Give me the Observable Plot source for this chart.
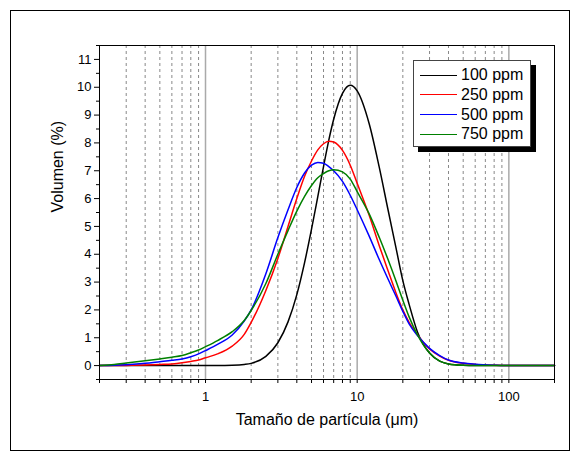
<!DOCTYPE html>
<html><head><meta charset="utf-8">
<script src="https://cdn.jsdelivr.net/npm/d3@7"></script>
<script src="https://cdn.jsdelivr.net/npm/@observablehq/plot@0.6"></script>
<style>
body{margin:0;background:#fff;}
#wrap{position:relative;width:578px;height:459px;font-family:"Liberation Sans",Arial,sans-serif;color:#000;}
#outer{position:absolute;left:10px;top:10px;width:558px;height:439px;border:1px solid #000;pointer-events:none;}
#legend{position:absolute;left:413px;top:60px;width:116px;height:85px;border:1px solid #444;background:#fff;box-shadow:5px 5px 0 #000;}
.row{position:absolute;left:0;height:20px;display:flex;align-items:center;font-size:16px;white-space:nowrap;}
.sw{width:37px;height:0;border-top:1.5px solid;margin-left:6px;margin-right:4px;}
</style></head><body>
<div id="wrap"><div id="chart"></div><div id="outer"></div><div id="legend"></div></div>
<script>
// particle size (µm)
const sizes = [0.2,0.25,0.3,0.4,0.5,0.6,0.7,0.8,0.9,1, 1.2,1.5,1.8,2,2.5,3,3.5,4,4.5,5, 5.5,6,6.5,7,8,9,10,12,14,16, 18,20,22,25,30,35,40,50,60,80, 100,150,200];
const seriesNames = ["100 ppm","250 ppm","500 ppm","750 ppm"];
const seriesColors = ["#000000","#ff0000","#0000ff","#008000"];
const vol100 = [0,0,0,0,0,0,0,0,0,0, 0,0.01,0.04,0.08,0.33,0.82,1.57,2.55,3.7,4.9, 6.07,7.15,8.1,8.85,9.78,10.07,9.87,8.69,7.11,5.58, 4.25,3.05,2.2,1.2,0.45,0.16,0.06,0.01,0,0, 0,0,0];
const vol250 = [0,0,0.005,0.02,0.04,0.06,0.1,0.15,0.2,0.28, 0.42,0.7,1.12,1.55,2.7,3.85,5.0,6.0,6.8,7.35, 7.75,7.97,8.06,8.03,7.73,7.2,6.55,5.4,4.3,3.4, 2.62,2.0,1.55,1.1,0.6,0.34,0.19,0.08,0.04,0.01, 0,0,0];
const vol500 = [0,0.01,0.03,0.08,0.14,0.19,0.24,0.32,0.42,0.54, 0.76,1.1,1.6,2.0,3.3,4.6,5.6,6.4,6.92,7.2, 7.3,7.27,7.15,7.0,6.62,6.12,5.6,4.65,3.8,3.1, 2.5,1.95,1.5,1.08,0.62,0.36,0.2,0.09,0.05,0.015, 0,0,0];
const vol750 = [0,0.04,0.09,0.17,0.24,0.3,0.36,0.46,0.56,0.68, 0.9,1.22,1.62,1.98,2.95,4.0,4.85,5.55,6.08,6.47, 6.75,6.9,7.0,7.04,6.96,6.7,6.25,5.45,4.6,3.8, 3.05,2.35,1.75,1.1,0.45,0.16,0.06,0.01,0,0, 0,0,0];
const seriesValues = [vol100, vol250, vol500, vol750];

const xMajor = [1,10,100];
const xMinor = [0.2,0.3,0.4,0.5,0.6,0.7,0.8,0.9,2,3,4,5,6,7,8,9,20,30,40,50,60,70,80,90,200];
const gridMinor = [0.3,0.4,0.5,0.6,0.7,0.8,0.9,2,3,4,5,6,7,8,9,20,30,40,50,60,70,80,90];
const yMajor = [0,1,2,3,4,5,6,7,8,9,10,11];
const yMinor = [-0.5,0.5,1.5,2.5,3.5,4.5,5.5,6.5,7.5,8.5,9.5,10.5,11.5];
const xTitle = "Tamaño de partícula (μm)";
const yTitle = "Volumen (%)";

const lines = seriesValues.map((vals, k) =>
  Plot.line(sizes.map((s, i) => ({x: s, y: vals[i]})),
    {x: "x", y: "y", stroke: seriesColors[k], strokeWidth: 1.5, curve: "monotone-x"}));

const chart = Plot.plot({
  width: 578, height: 459,
  marginLeft: 99, marginRight: 24, marginTop: 45, marginBottom: 80,
  style: {fontFamily: "'Liberation Sans', Arial, sans-serif", fontSize: "13px", background: "transparent", color: "#000"},
  x: {type: "log", domain: [0.2, 200]},
  y: {domain: [-0.5, 11.5]},
  marks: [
    Plot.ruleX(gridMinor, {stroke: "#888", strokeDasharray: "3,3", strokeWidth: 1}),
    Plot.ruleX(xMajor, {stroke: "#aaa", strokeWidth: 1.5}),
    ...lines,
    Plot.frame({stroke: "#000", strokeWidth: 1}),
    Plot.axisX(xMajor, {tickSize: 4, tickPadding: 8, tickFormat: d => String(d), label: null}),
    Plot.axisX(xMinor, {tickSize: 4, tickFormat: () => "", label: null}),
    Plot.axisY(yMajor, {tickSize: 5, tickPadding: 3, tickFormat: d => String(d), label: null}),
    Plot.axisY(yMinor, {tickSize: 3, tickFormat: () => "", label: null}),
    Plot.text([xTitle], {frameAnchor: "bottom", dy: 45, fontSize: 16}),
    Plot.text([yTitle], {frameAnchor: "left", dx: -42, rotate: -90, fontSize: 16})
  ]
});
document.getElementById("chart").appendChild(chart);

const legend = document.getElementById("legend");
seriesNames.forEach((name, k) => {
  const row = document.createElement("div");
  row.className = "row";
  row.style.top = (4 + k * 19.8) + "px";
  const sw = document.createElement("div");
  sw.className = "sw";
  sw.style.borderTopColor = seriesColors[k];
  const t = document.createElement("span");
  t.textContent = name;
  row.appendChild(sw); row.appendChild(t);
  legend.appendChild(row);
});
</script></body></html>
